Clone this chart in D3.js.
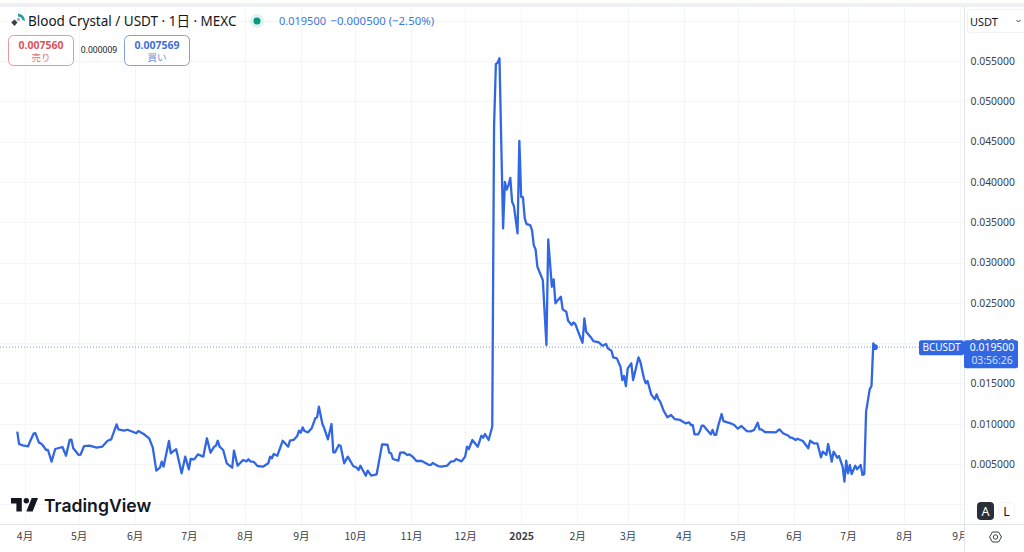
<!DOCTYPE html>
<html>
<head>
<meta charset="utf-8">
<script src="https://cdn.jsdelivr.net/npm/d3@7/dist/d3.min.js"></script>
<style>
  html, body { margin: 0; padding: 0; background: #fff; overflow: hidden; }
  svg { display: block; font-family: "Noto Sans", "Noto Sans CJK JP", sans-serif; }
</style>
</head>
<body>
<svg id="chart" width="1024" height="552"></svg>
<script>
const startDate = '2024-04-01'

// days since startDate
const days = [-4,-3,-1,2,3,5,6,8,9,10,12,13,15,17,21,23,25,26,27,30,31,33,36,40,43,46,48,51,52,55,57,62,63,66,69,71,73,75,76,77,
  80,81,82,84,87,89,91,92,94,96,99,101,103,105,106,107,108,110,112,115,116,118,121,123,124,125,127,129,132,135,136,137,138,140,143,146,147,149,151,152,
  153,154,155,157,159,161,162,163,165,166,168,170,171,172,174,175,177,179,182,184,185,186,189,190,192,195,198,201,202,203,204,207,208,210,212,213,215,217,220,224,
  225,226,229,231,234,236,238,239,242,244,245,246,248,251,253,254,255,257,258,259,260,261,262,263,265,266,267,268,269,270,271,273,274,275,276,277,278,280,281,282,
  283,284,287,289,290,292,293,294,295,297,298,300,301,303,304,305,308,309,310,311,314,315,318,320,322,323,325,326,328,330,331,332,333,334,336,337,340,341,343,344,
  345,347,349,350,351,352,354,356,358,360,363,366,368,369,370,371,373,374,375,376,378,380,381,382,383,384,386,387,391,393,395,397,400,402,404,406,407,408,410,416,
  418,420,423,424,425,427,428,431,434,435,437,439,441,442,444,445,447,448,450,451,453,454,455,456,457,458,460,461,463,464,465,466,468,469,470,471]

const prices = [.00901,.00748,.00732,.00719,.00777,.00876,.00884,.00764,.00757,.00736,.00674,.00674,.00529,.00686,.00711,.00603,.00798,.00801,.00695,.00612,.00615,.00723,.00727,.00702,.00715,.00789,.00806,.00992,.0093,.00913,.00925,.00881,.00909,.00872,.00819,.00707,.00417,.00454,.00529,.00467,
  .00785,.00633,.00653,.00682,.00385,.00591,.00434,.00562,.00558,.0062,.00591,.00819,.0064,.00715,.00727,.00789,.00715,.00674,.00509,.00454,.00665,.00479,.0055,.00533,.00558,.00533,.00525,.00475,.00467,.00509,.00591,.00571,.00624,.00603,.00789,.00715,.00789,.00798,.00847,.00913,
  .00888,.00955,.00909,.00893,.00943,.01067,.01079,.01211,.00992,.00943,.00806,.00996,.00645,.00645,.00736,.00727,.00509,.00591,.00475,.00454,.00426,.00479,.00355,.00417,.00355,.00372,.00744,.00739,.0064,.00633,.00562,.00541,.0064,.00645,.00612,.0062,.00591,.00537,.00537,.00488,
  .00488,.00512,.00475,.00467,.00479,.00529,.00537,.00562,.00533,.00591,.00715,.00686,.00798,.00715,.00851,.00826,.00872,.00798,.00881,.00963,.04683,.0546,.0548,.05534,.03423,.0400,.03906,.0396,.0405,.03753,.037,.03361,.04509,.03815,.03807,.03547,.03476,.03464,.03402,.03216,
  .03162,.02947,.02782,.01976,.03286,.02699,.0279,.02493,.02525,.02575,.02418,.02389,.02277,.02224,.02257,.02236,.02059,.02004,.02307,.02141,.02059,.02025,.02009,.01967,.01988,.01935,.01905,.01823,.01811,.01707,.01542,.01591,.01467,.01687,.01749,.01542,.01823,.01769,.01563,.01501,
  .01529,.01364,.01302,.01364,.01306,.01273,.01157,.01079,.01108,.01058,.01046,.01005,.01017,.00984,.00984,.00868,.00868,.00909,.00975,.00975,.00922,.00868,.00922,.00863,.00863,.00963,.0112,.01033,.01005,.00984,.00938,.00971,.00909,.00905,.00922,.01012,.0093,.0093,.00897,.00893,
  .0093,.00881,.00851,.00826,.00826,.00798,.00814,.00785,.00695,.00789,.00757,.00757,.00583,.00653,.00612,.00748,.00529,.00653,.00578,.00599,.00467,.00281,.00541,.00385,.00488,.00376,.00479,.00434,.00488,.00364,.00376,.01149,.01426,.01467,.01997,.0195]

const tickDates = ['2024-04-01','2024-05-01','2024-06-01','2024-07-01','2024-08-01','2024-09-01','2024-10-01','2024-11-01','2024-12-01','2025-01-01','2025-02-01','2025-03-01','2025-04-01','2025-05-01','2025-06-01','2025-07-01','2025-08-01','2025-09-01']
const tickLabels = ['4月','5月','6月','7月','8月','9月','10月','11月','12月','2025','2月','3月','4月','5月','6月','7月','8月','9月']
const priceTicks = [.005,.01,.015,.02,.025,.03,.035,.04,.045,.05,.055]
const gridPrices = [0,.005,.01,.015,.02,.025,.03,.035,.04,.045,.05,.055,.06]
const lastPrice = 0.0195

const width = 1024
const height = 552
const plotRight = 964
const plotBottom = 524
const blue = '#3267e3'
const gridColor = '#f4f5f8'
const borderColor = '#e3e5ea'
const textColor = '#131722'

const parseDate = d3.utcParse('%Y-%m-%d')
const start = parseDate(startDate)
const tickTimes = tickDates.map(parseDate)

const xScale = d3.scaleUtc().domain([start, parseDate('2025-09-01')]).range([24.5, 960])
const yScale = d3.scaleLinear().domain([0.005, 0.055]).range([464, 61])

const svg = d3.select('#chart')

svg.append('defs').append('clipPath').attr('id', 'xaxis-clip')
  .append('rect').attr('x', 0).attr('y', plotBottom).attr('width', plotRight).attr('height', height - plotBottom)

// grid
svg.append('g').selectAll('line').data(gridPrices).join('line')
  .attr('x1', 0).attr('x2', plotRight)
  .attr('y1', d => Math.round(yScale(d)) + 0.5).attr('y2', d => Math.round(yScale(d)) + 0.5)
  .attr('stroke', gridColor)
svg.append('g').selectAll('line').data(tickTimes).join('line')
  .attr('x1', d => Math.round(xScale(d)) + 0.5).attr('x2', d => Math.round(xScale(d)) + 0.5)
  .attr('y1', 7).attr('y2', plotBottom)
  .attr('stroke', gridColor)

// top band and axis borders
svg.append('rect').attr('x', 0).attr('y', 3).attr('width', width).attr('height', 4).attr('fill', '#eff0f3')
svg.append('line').attr('x1', plotRight + 0.5).attr('x2', plotRight + 0.5).attr('y1', 7).attr('y2', height).attr('stroke', borderColor)
svg.append('line').attr('x1', 0).attr('x2', width).attr('y1', plotBottom + 0.5).attr('y2', plotBottom + 0.5).attr('stroke', borderColor)

// axes
const yAxis = d3.axisRight(yScale).tickValues(priceTicks).tickFormat(d3.format('.6f')).tickSize(0).tickPadding(6.5)
svg.append('g').attr('transform', `translate(${plotRight},0)`).call(yAxis)
  .call(g => g.select('.domain').remove())
  .call(g => g.selectAll('text').attr('font-size', 10.4).attr('fill', '#3a3e49').attr('font-family', '"Noto Sans", sans-serif'))

const xAxis = d3.axisBottom(xScale).tickValues(tickTimes).tickFormat((d, i) => tickLabels[i]).tickSize(0).tickPadding(9)
svg.append('g').attr('clip-path', 'url(#xaxis-clip)')
  .append('g').attr('transform', `translate(0,${plotBottom})`).call(xAxis)
  .call(g => g.select('.domain').remove())
  .call(g => g.selectAll('text')
    .attr('font-size', 10.5).attr('fill', '#3a3e49')
    .attr('font-family', '"Noto Sans CJK JP", sans-serif')
    .attr('font-weight', (d, i) => tickLabels[i] === '2025' ? 700 : 400))

// price line
const points = days.map((d, i) => ({ date: d3.utcDay.offset(start, d), price: prices[i] }))
const lineGenerator = d3.line().x(d => xScale(d.date)).y(d => yScale(d.price))

svg.append('line')
  .attr('x1', 0).attr('x2', plotRight)
  .attr('y1', yScale(lastPrice)).attr('y2', yScale(lastPrice))
  .attr('stroke', blue).attr('stroke-width', 1).attr('stroke-dasharray', '1 2').attr('opacity', 0.7)

svg.append('path').attr('d', lineGenerator(points))
  .attr('fill', 'none').attr('stroke', blue).attr('stroke-width', 2.3).attr('stroke-linejoin', 'round')

const lastPoint = points[points.length - 1]
svg.append('circle').attr('cx', xScale(lastPoint.date)).attr('cy', yScale(lastPoint.price)).attr('r', 2.8).attr('fill', blue)

// last price labels
const lastY = yScale(lastPrice)
svg.append('rect').attr('x', 919).attr('y', lastY - 7).attr('width', 45).attr('height', 15).attr('rx', 2).attr('fill', blue)
svg.append('text').attr('x', 941.5).attr('y', lastY + 4).attr('text-anchor', 'middle').attr('font-size', 10).attr('fill', '#fff').text('BCUSDT')
svg.append('rect').attr('x', 964).attr('y', lastY - 7).attr('width', 54).attr('height', 28).attr('rx', 2).attr('fill', blue)
svg.append('text').attr('x', 992).attr('y', lastY + 4).attr('text-anchor', 'middle').attr('font-size', 10.4).attr('fill', '#fff').text('0.019500')
svg.append('text').attr('x', 992).attr('y', lastY + 17).attr('text-anchor', 'middle').attr('font-size', 10.4).attr('fill', '#d5e0fb').text('03:56:26')

// header
const icon = svg.append('g')
icon.append('path').attr('d', 'M18 13.5a7.5 7.5 0 0 1 7 7.5l-2.8-1.2a4.6 4.6 0 0 0-4.4-3.3z').attr('fill', '#2a9d9a')
icon.append('path').attr('d', 'M14.5 19.5l3 3-3 3.5-3.3-3.5z').attr('fill', '#3a3e49')
icon.append('circle').attr('cx', 18.5).attr('cy', 19.5).attr('r', 1.4).attr('fill', '#9aa0aa')

svg.append('text').attr('x', 28).attr('y', 26).attr('font-size', 13.5).attr('fill', textColor)
  .attr('font-family', '"Noto Sans", "Noto Sans CJK JP", sans-serif').attr('xml:space', 'preserve')
  .text('Blood Crystal / USDT · 1日 · MEXC')

svg.append('circle').attr('cx', 257).attr('cy', 21).attr('r', 7).attr('fill', '#e0f3f0')
svg.append('circle').attr('cx', 257).attr('cy', 21).attr('r', 3.5).attr('fill', '#089981')
svg.append('text').attr('x', 279).attr('y', 25).attr('font-size', 11).attr('fill', '#3d78d8').text('0.019500')
svg.append('text').attr('x', 330.5).attr('y', 25).attr('font-size', 11.4).attr('fill', '#3d78d8').text('−0.000500 (−2.50%)')

const tradeBoxes = [
  { x: 8, price: '0.007560', label: '売り', color: '#d9545c', border: '#e8989c' },
  { x: 124, price: '0.007569', label: '買い', color: '#3f6fd8', border: '#7f9fe3' }
]
tradeBoxes.forEach(b => {
  svg.append('rect').attr('x', b.x + 0.5).attr('y', 35.5).attr('width', 65).attr('height', 30).attr('rx', 5)
    .attr('fill', '#fff').attr('stroke', b.border)
  svg.append('text').attr('x', b.x + 33).attr('y', 49).attr('text-anchor', 'middle')
    .attr('font-size', 10.5).attr('font-weight', 700).attr('fill', b.color).text(b.price)
  svg.append('text').attr('x', b.x + 33).attr('y', 61).attr('text-anchor', 'middle')
    .attr('font-size', 9.5).attr('fill', b.color).attr('opacity', 0.8).attr('font-family', '"Noto Sans CJK JP", sans-serif').text(b.label)
})
svg.append('text').attr('x', 99).attr('y', 53).attr('text-anchor', 'middle').attr('font-size', 8.5).attr('fill', textColor).text('0.000009')

// currency button
svg.append('rect').attr('x', 967.5).attr('y', 9.5).attr('width', 60).attr('height', 23).attr('rx', 3).attr('fill', '#fff').attr('stroke', '#f1f2f5')
svg.append('text').attr('x', 970).attr('y', 26).attr('font-size', 11).attr('fill', textColor).text('USDT')
svg.append('path').attr('d', 'M1016.5 20l2 2 2-2').attr('fill', 'none').attr('stroke', '#3a3e49')

// TradingView logo
svg.append('path').attr('transform', 'translate(9.2,492.6) scale(0.9)')
  .attr('d', 'M14 6H2v6h6v9h6V6Zm12 15h-7l6-15h7l-6 15Zm-7-9a3 3 0 1 0 0-6 3 3 0 0 0 0 6Z')
  .attr('fill', textColor)
svg.append('text').attr('x', 44).attr('y', 512).attr('font-size', 17.6).attr('font-weight', 600)
  .attr('font-family', 'Inter, sans-serif').attr('fill', textColor).text('TradingView')

// A / L buttons and settings icon
svg.append('rect').attr('x', 977).attr('y', 502).attr('width', 17).attr('height', 18).attr('rx', 4).attr('fill', '#2a2e39')
svg.append('text').attr('x', 985.5).attr('y', 516).attr('text-anchor', 'middle').attr('font-size', 12.5).attr('fill', '#fff').text('A')
svg.append('rect').attr('x', 998.5).attr('y', 502.5).attr('width', 16).attr('height', 17).attr('rx', 4).attr('fill', '#fff').attr('stroke', '#f1f2f5')
svg.append('text').attr('x', 1006.5).attr('y', 516).attr('text-anchor', 'middle').attr('font-size', 12.5).attr('fill', textColor).text('L')
svg.append('path').attr('d', 'M989.5 537l3-5h6l3 5-3 5h-6z').attr('fill', 'none').attr('stroke', '#3a3e49')
svg.append('circle').attr('cx', 995.5).attr('cy', 537).attr('r', 2.2).attr('fill', 'none').attr('stroke', '#3a3e49')
</script>
</body>
</html>
